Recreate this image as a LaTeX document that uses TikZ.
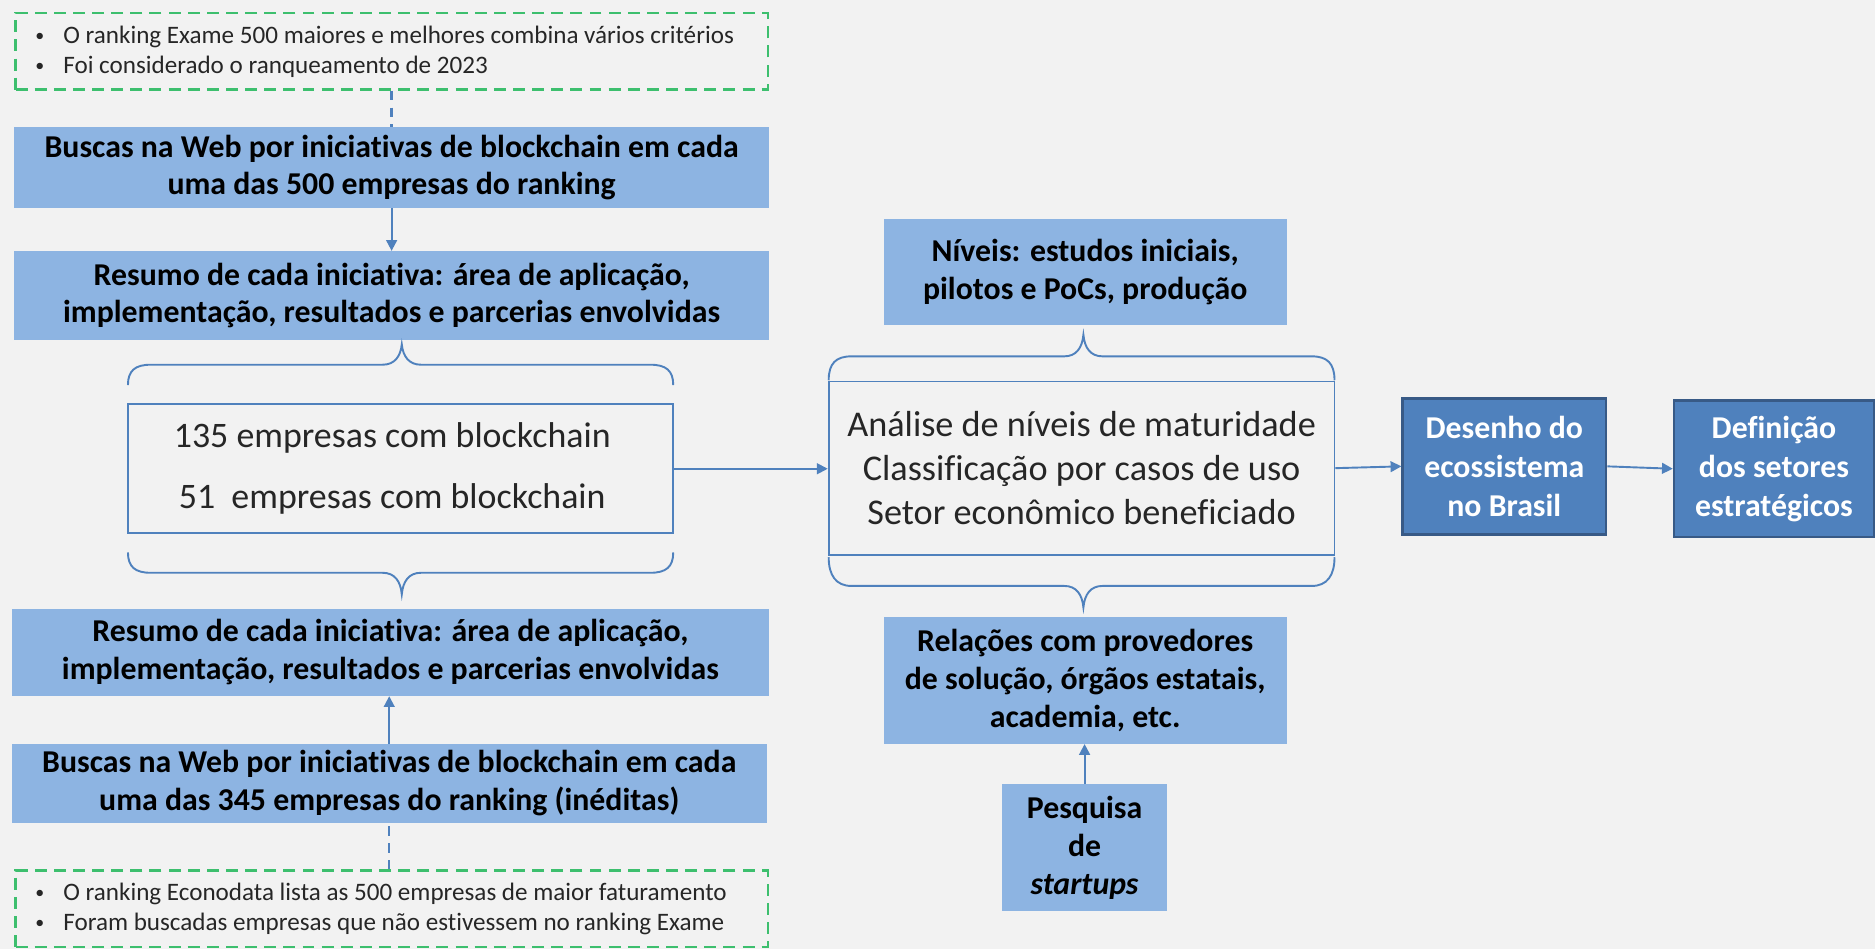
\documentclass[tikz,border=0pt]{standalone}
\usepackage{fontspec}
\setmainfont{Carlito}[Ligatures=NoCommon]
\usetikzlibrary{arrows.meta,calc}
\definecolor{bg}{HTML}{F2F2F2}
\definecolor{lblue}{HTML}{8DB4E2}
\definecolor{dblue}{HTML}{4F81BD}
\definecolor{dborder}{HTML}{385A86}
\definecolor{lnblue}{HTML}{4F81BD}
\definecolor{gdash}{HTML}{3DBF6E}
\definecolor{txtgray}{HTML}{262626}
\newcommand\mybul{\hspace*{12pt}{\fontsize{15}{15}\selectfont\raisebox{1.5pt}{\textbullet}}\hspace{16pt}}
\begin{document}
\begin{tikzpicture}[x=1pt,y=-1pt,
  lbox/.style={fill=lblue, draw=none, inner sep=0pt, align=center,
    font=\fontsize{26.6}{31.5}\selectfont\bfseries, text=black},
  dbox/.style={fill=dblue, draw=dborder, line width=2.2pt, inner sep=0pt, align=center,
    font=\fontsize{26.6}{32.5}\selectfont\bfseries, text=white},
  notebox/.style={draw=gdash, line width=2pt, dash pattern=on 10pt off 6pt,
    inner xsep=4.5pt, inner ysep=0pt, text width=620pt, align=flush left, anchor=west,
    font=\fontsize{21}{25}\selectfont, text=txtgray},
  wbox/.style={draw=lnblue, line width=1.6pt, inner sep=0pt, align=center, text=txtgray},
  arr/.style={draw=lnblue, line width=1.6pt, -{Triangle[width=9pt,length=9pt]}},
  dline/.style={draw=lnblue, line width=2pt, dash pattern=on 8pt off 6pt},
  bracel/.style={draw=lnblue, line width=1.6pt}
]
\useasboundingbox (0,0) rectangle (1568,794);
\fill[bg] (0,0) rectangle (1568,794);

% left column
\node[notebox, minimum height=64pt] (nt) at (12,43)
  {\mybul O ranking Exame 500 maiores e melhores combina vários critérios\\
   \mybul Foi considerado o ranqueamento de 2023};
\node[lbox, minimum width=631pt, minimum height=68pt] (b1) at (327.5,140)
  {Buscas na Web por iniciativas de blockchain em cada\\uma das 500 empresas do ranking};
\node[lbox, minimum width=631pt, minimum height=74pt] (b2) at (327.5,247)
  {Resumo de cada iniciativa: área de aplicação,\\implementação, resultados e parcerias envolvidas};
\node[wbox, minimum width=456pt, minimum height=108pt,
  font=\fontsize{30}{36}\selectfont] (cb) at (335,392)
  {135 empresas com blockchain\hspace*{14pt}\\[15pt]51\ \ empresas com blockchain\hspace*{14pt}};
\node[lbox, minimum width=633pt, minimum height=73pt] (b3) at (326.5,545.5)
  {Resumo de cada iniciativa: área de aplicação,\\implementação, resultados e parcerias envolvidas};
\node[lbox, minimum width=631pt, minimum height=66pt] (b4) at (325.5,655)
  {Buscas na Web por iniciativas de blockchain em cada\\uma das 345 empresas do ranking (inéditas)};
\node[notebox, minimum height=64pt] (nb) at (12,760)
  {\mybul O ranking Econodata lista as 500 empresas de maior faturamento\\
   \mybul Foram buscadas empresas que não estivessem no ranking Exame};

% middle column
\node[lbox, minimum width=337pt, minimum height=89pt] (nv) at (907.5,227.5)
  {Níveis: estudos iniciais,\\pilotos e PoCs, produção};
\node[wbox, minimum width=423pt, minimum height=145pt,
  font=\fontsize{30.3}{37}\selectfont] (an) at (904.5,391.5)
  {Análise de níveis de maturidade\\Classificação por casos de uso\\Setor econômico beneficiado};
\node[lbox, minimum width=337pt, minimum height=106pt, font=\fontsize{26.6}{32}\selectfont\bfseries] (rl) at (907.5,569)
  {Relações com provedores\\de solução, órgãos estatais,\\academia, etc.};
\node[lbox, minimum width=138pt, minimum height=106pt, font=\fontsize{26.6}{32}\selectfont\bfseries] (pq) at (907,709)
  {Pesquisa\\de\\\textit{startups}};

% right column
\node[dbox, minimum width=170pt, minimum height=114pt] (de) at (1258,390)
  {Desenho do\\ecossistema\\no Brasil};
\node[dbox, minimum width=167pt, minimum height=114pt] (df) at (1483.5,392)
  {Definição\\dos setores\\estratégicos};

% connectors
\draw[dline] (nt.south -| b1.north) -- (b1.north);
\draw[arr] (b1.south) -- (b2.north);
\draw[dline] (nb.north -| b4.south) -- (b4.south);
\draw[arr] (b4.north) -- (b4.north |- b3.south);
\draw[arr] (cb.east) -- (cb.east -| an.west);
\draw[arr] (an.east) -- (de.west);
\draw[arr] (de.east) -- (df.west);
\draw[arr] (pq.north) -- (pq.north |- rl.south);

% braces around center box
\draw[bracel] (107,322) .. controls (107,310) and (113,305) .. (126,305) -- (320,305)
  .. controls (330,305) and (335,298) .. (336,288)
  .. controls (337,298) and (342,305) .. (352,305) -- (544,305)
  .. controls (557,305) and (563,310) .. (563,322);
\draw[bracel] (107,462) .. controls (107,474) and (113,479) .. (126,479) -- (320,479)
  .. controls (330,479) and (335,486) .. (336,497)
  .. controls (337,486) and (342,479) .. (352,479) -- (544,479)
  .. controls (557,479) and (563,474) .. (563,462);
% braces around analysis box
\draw[bracel] (693,318) .. controls (693,304) and (699,298) .. (712,298) -- (890,298)
  .. controls (900,298) and (905,291) .. (906,280)
  .. controls (907,291) and (912,298) .. (922,298) -- (1097,298)
  .. controls (1110,298) and (1116,304) .. (1116,318);
\draw[bracel] (693,466) .. controls (693,481) and (699,490) .. (712,490) -- (890,490)
  .. controls (900,490) and (905,497) .. (906,508)
  .. controls (907,497) and (912,490) .. (922,490) -- (1097,490)
  .. controls (1110,490) and (1116,481) .. (1116,466);
\end{tikzpicture}
\end{document}
